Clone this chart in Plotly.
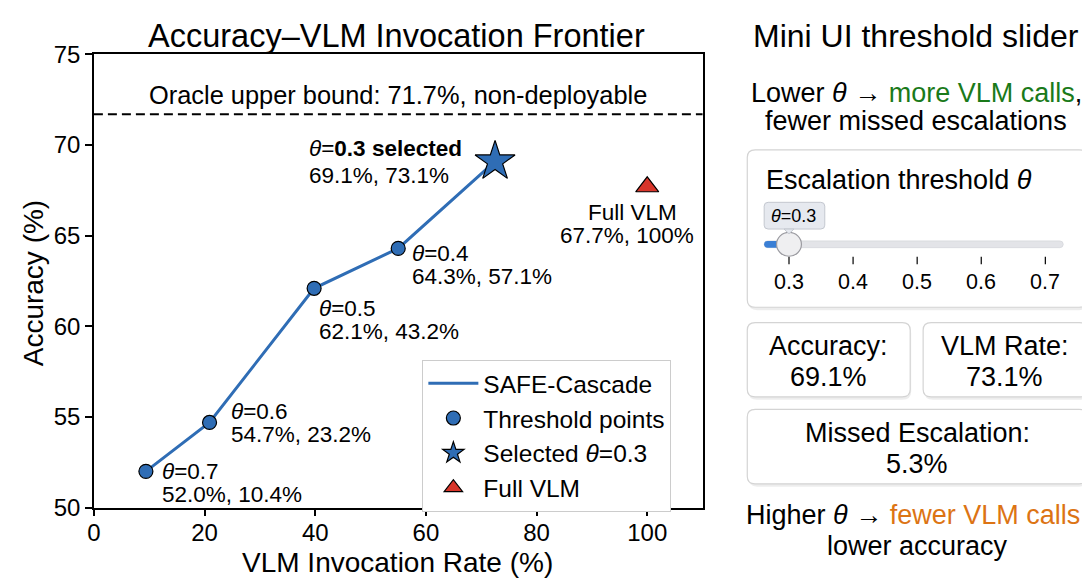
import plotly.graph_objects as go

# ---------------- data ----------------
thresholds = [0.7, 0.6, 0.5, 0.4, 0.3]
vlm_rate_plot = [9.4, 20.9, 39.8, 55.0, 72.5]      # plotted x positions
accuracy = [52.0, 54.7, 62.1, 64.3, 69.1]
label_rate = [10.4, 23.2, 43.2, 57.1, 73.1]         # rates shown in the labels
full_vlm_rate = [100.0]
full_vlm_acc = [67.7]
oracle_acc = 71.7
missed_escalation = 5.3
slider_ticks = [0.3, 0.4, 0.5, 0.6, 0.7]
selected_theta = 0.3

W, H = 1090, 588
OFF = 8  # page body margin compensation
FONT = "Liberation Sans, Arial, sans-serif"
BLUE = "#2f6db5"
RED = "#d8352a"
GREEN = "#1a7a1a"
ORANGE = "#dc7414"


def px(x):
    return (x - OFF) / W


def py(y):
    return 1 - (y - OFF) / H


fig = go.Figure()

fig.add_trace(go.Scatter(x=vlm_rate_plot, y=accuracy, mode="lines",
                         line=dict(color=BLUE, width=3), name="SAFE-Cascade"))
fig.add_trace(go.Scatter(x=vlm_rate_plot[:-1], y=accuracy[:-1], mode="markers",
                         marker=dict(color=BLUE, size=14, line=dict(color="black", width=1.2)),
                         name="Threshold points"))
fig.add_trace(go.Scatter(x=vlm_rate_plot[-1:], y=accuracy[-1:], mode="markers",
                         marker=dict(color=BLUE, size=30, symbol="star",
                                     line=dict(color="black", width=1.2)),
                         name="Selected <i>θ</i>=0.3"))
fig.add_trace(go.Scatter(x=full_vlm_rate, y=full_vlm_acc, mode="markers",
                         marker=dict(color=RED, size=20, symbol="triangle-up",
                                     line=dict(color="black", width=1.2)),
                         name="Full VLM"))

fig.add_shape(type="line", xref="x domain", yref="y", x0=0, x1=1, y0=oracle_acc, y1=oracle_acc,
              line=dict(color="black", width=1.8, dash="9px,5px"))
fig.add_annotation(xref="x", yref="y", x=55, y=oracle_acc, yshift=19,
                   text=f"Oracle upper bound: {oracle_acc}%, non-deployable",
                   showarrow=False, font=dict(size=25.4, color="black"))

ann_font = dict(size=22.5, color="black")
offsets = {0.7: (14, 0, 23), 0.6: (19, -11, 12), 0.5: (3, 20, 43), 0.4: (12, 5, 28)}
for th, xr, acc, lr in zip(thresholds, vlm_rate_plot, accuracy, label_rate):
    if th == selected_theta:
        continue
    dx, dy1, dy2 = offsets[th]
    fig.add_annotation(xref="x", yref="y", x=xr, y=acc, xshift=dx, yshift=-dy1,
                       xanchor="left", yanchor="middle", showarrow=False,
                       text=f"<i>θ</i>={th}", font=ann_font)
    fig.add_annotation(xref="x", yref="y", x=xr, y=acc, xshift=dx, yshift=-dy2,
                       xanchor="left", yanchor="middle", showarrow=False,
                       text=f"{acc:.1f}%, {lr:.1f}%", font=ann_font)

fig.add_annotation(xref="x", yref="y", x=vlm_rate_plot[-1], y=accuracy[-1], xshift=-188, yshift=13,
                   xanchor="left", yanchor="middle", showarrow=False,
                   text=f"<i>θ</i>=<b>{selected_theta} selected</b>", font=ann_font)
fig.add_annotation(xref="x", yref="y", x=vlm_rate_plot[-1], y=accuracy[-1], xshift=-188, yshift=-14,
                   xanchor="left", yanchor="middle", showarrow=False,
                   text=f"{accuracy[-1]:.1f}%, {label_rate[-1]:.1f}%", font=ann_font)
fig.add_annotation(xref="x", yref="y", x=full_vlm_rate[0], y=full_vlm_acc[0], xshift=-15, yshift=-26,
                   xanchor="center", yanchor="middle", showarrow=False,
                   text="Full VLM", font=ann_font)
fig.add_annotation(xref="x", yref="y", x=full_vlm_rate[0], y=full_vlm_acc[0], xshift=-20, yshift=-49,
                   xanchor="center", yanchor="middle", showarrow=False,
                   text=f"{full_vlm_acc[0]:.1f}%, {full_vlm_rate[0]:.0f}%", font=ann_font)

fig.add_annotation(xref="paper", yref="paper", x=px(392), y=py(23), text="Accuracy–VLM Invocation Frontier",
                   showarrow=False, font=dict(size=32.5, color="black"), xanchor="center", yanchor="middle")
fig.add_annotation(xref="paper", yref="paper", x=px(393), y=py(575), text="VLM Invocation Rate (%)",
                   showarrow=False, font=dict(size=28, color="black"), xanchor="center", yanchor="middle")
fig.add_annotation(xref="paper", yref="paper", x=px(27), y=py(282), text="Accuracy (%)", textangle=-90,
                   showarrow=False, font=dict(size=28, color="black"), xanchor="center", yanchor="middle")


def rrect(x0, y0, x1, y1, r=8):
    X0, X1 = px(x0), px(x1)
    Y0, Y1 = py(y0), py(y1)
    rx, ry = r / W, r / H
    return (f"M {X0+rx},{Y0} L {X1-rx},{Y0} Q {X1},{Y0} {X1},{Y0-ry} "
            f"L {X1},{Y1+ry} Q {X1},{Y1} {X1-rx},{Y1} L {X0+rx},{Y1} "
            f"Q {X0},{Y1} {X0},{Y1+ry} L {X0},{Y0-ry} Q {X0},{Y0} {X0+rx},{Y0} Z")


def card(x0, y0, x1, y1):
    fig.add_shape(type="path", xref="paper", yref="paper", path=rrect(x0 + 1, y0 + 2, x1 + 1, y1 + 3, 9),
                  fillcolor="rgba(0,0,0,0.07)", line=dict(width=0), layer="below")
    fig.add_shape(type="path", xref="paper", yref="paper", path=rrect(x0, y0, x1, y1, 8),
                  fillcolor="white", line=dict(color="#d4d4d4", width=1.2))


def text(x, y, s, size=27, color="black", anchor="center"):
    fig.add_annotation(xref="paper", yref="paper", x=px(x), y=py(y), text=s, showarrow=False,
                       xanchor=anchor, yanchor="middle", font=dict(size=size, color=color))


text(915, 23, "Mini UI threshold slider", size=32)
text(915, 82, f"Lower <i>θ</i> → <span style='color:{GREEN}'>more VLM calls</span>,")
text(915, 112, "fewer missed escalations")

card(745, 142, 1087, 307)
text(762, 174, "Escalation threshold <i>θ</i>", anchor="left")

x_lo, x_hi = 787, 1045


def sx(v):
    return x_lo + (v - slider_ticks[0]) / (slider_ticks[-1] - slider_ticks[0]) * (x_hi - x_lo)


fig.add_shape(type="path", xref="paper", yref="paper", path=rrect(762, 237.5, 1063, 244.5, 3.5),
              fillcolor="#e3e4e8", line=dict(color="#d6d7dc", width=0.8))
fig.add_shape(type="path", xref="paper", yref="paper", path=rrect(762, 237.5, sx(selected_theta), 244.5, 3.5),
              fillcolor="#3a7fd5", line=dict(width=0))
for v in slider_ticks:
    fig.add_shape(type="line", xref="paper", yref="paper", x0=px(sx(v)), x1=px(sx(v)),
                  y0=py(254), y1=py(262), line=dict(color="black", width=1.2))
    text(sx(v), 281, f"{v}", size=21.5)
kx, ky, kr = sx(selected_theta), 241, 12.5
fig.add_shape(type="circle", xref="paper", yref="paper", x0=px(kx - kr), x1=px(kx + kr),
              y0=py(ky + kr), y1=py(ky - kr), fillcolor="#efeff1", line=dict(color="#9a9aa0", width=1.2))
fig.add_shape(type="path", xref="paper", yref="paper", path=rrect(762, 197, 823, 225, 4),
              fillcolor="#e6e9ef", line=dict(color="#c3c7cf", width=1))
fig.add_shape(type="path", xref="paper", yref="paper",
              path=f"M {px(kx-5)},{py(225)} L {px(kx)},{py(230)} L {px(kx+5)},{py(225)} Z",
              fillcolor="#e6e9ef", line=dict(color="#c3c7cf", width=1))
text(792, 211, f"<i>θ</i>={selected_theta}", size=18)

card(745, 323, 909, 401)
text(827, 348, "Accuracy:")
text(827, 380, f"{accuracy[-1]:.1f}%")
card(922, 323, 1087, 401)
text(1004, 348, "VLM Rate:")
text(1004, 380, f"{label_rate[-1]:.1f}%")
card(745, 414, 1087, 492)
text(916, 439, "Missed Escalation:")
text(916, 471, f"{missed_escalation:.1f}%")

text(916, 525, f"Higher <i>θ</i> → <span style='color:{ORANGE}'>fewer VLM calls</span>,")
text(916, 557, "lower accuracy")

axis_common = dict(showline=True, linecolor="black", linewidth=1.5, mirror=True,
                   ticks="outside", ticklen=7, tickwidth=1.5, tickcolor="black",
                   showgrid=False, zeroline=False, tickfont=dict(size=24, color="black"))
fig.update_layout(
    width=W, height=H,
    margin=dict(l=0, r=0, t=0, b=0),
    paper_bgcolor="white", plot_bgcolor="white",
    font=dict(family=FONT, color="black"),
    xaxis=dict(range=[0, 110], domain=[px(87.4), px(700)], tickvals=[0, 20, 40, 60, 80, 100],
               ticklabelstandoff=-4, **axis_common),
    yaxis=dict(range=[50, 75], domain=[py(517), py(42)], tickvals=[50, 55, 60, 65, 70, 75], **axis_common),
    showlegend=True,
    legend=dict(x=px(418), y=py(362), xanchor="left", yanchor="top",
                bgcolor="white", bordercolor="#cccccc", borderwidth=1,
                font=dict(size=24.5, color="black"), itemwidth=50, tracegroupgap=0),
)

fig.write_html("out.html")
